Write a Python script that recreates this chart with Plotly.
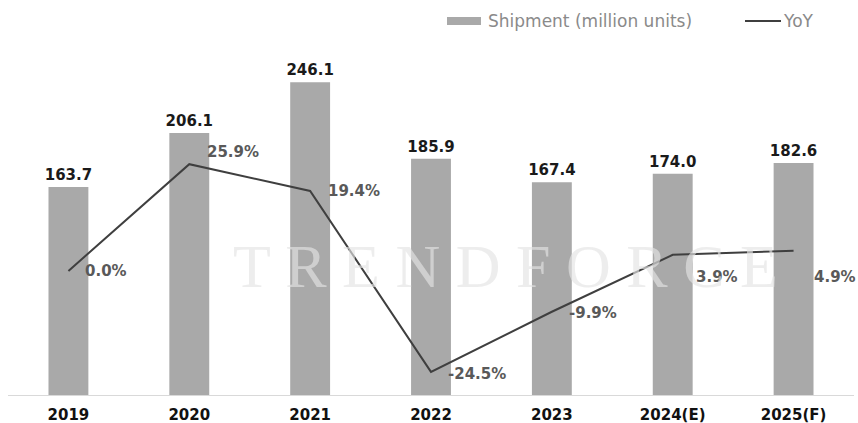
import plotly.graph_objects as go

years = ["2019", "2020", "2021", "2022", "2023", "2024(E)", "2025(F)"]
shipment = [163.7, 206.1, 246.1, 185.9, 167.4, 174.0, 182.6]
yoy = [0.0, 25.9, 19.4, -24.5, -9.9, 3.9, 4.9]
shipment_labels = [f"{v:.1f}" for v in shipment]
yoy_labels = [f"{v:.1f}%" for v in yoy]

# label offsets (style)
yoy_xshift = [15, 16, 16, 15, 15, 21, 18]
yoy_yshift = [0, 12, 0, -2, -1, -22, -26]

W, H = 858, 423
L, R, T, B = 8, 4, 50, 28
pw, ph = W - L - R, H - T - B

def px(x):
    return (x - L) / pw

def py(y):
    return (H - B - y) / ph

BAR = "#a9a9a9"
LINE = "#3f3f3f"

fig = go.Figure()
fig.add_trace(go.Bar(
    x=years, y=shipment, name="Shipment (million units)",
    marker=dict(color=BAR, line=dict(width=0)),
    width=0.33,
    text=shipment_labels, textposition="outside", cliponaxis=False,
    constraintext="none",
    textfont=dict(family="DejaVu Sans", size=15, color="#1a1a1a", weight="bold"),
    showlegend=False,
))
fig.add_trace(go.Scatter(
    x=years, y=yoy, name="YoY", yaxis="y2", mode="lines",
    line=dict(color=LINE, width=2), showlegend=False,
))

annotations = []
for i, (yv, lab, dx, dy) in enumerate(zip(yoy, yoy_labels, yoy_xshift, yoy_yshift)):
    annotations.append(dict(
        x=i, y=yv, xref="x", yref="y2", text=lab, showarrow=False,
        xanchor="left", yanchor="middle", xshift=dx, yshift=dy,
        font=dict(family="DejaVu Sans", size=15, color="#595959", weight="bold"),
    ))

# watermark
annotations.append(dict(
    x=px(505), y=py(266), xref="paper", yref="paper",
    text="T R E N D F O R C E", showarrow=False,
    font=dict(family="Liberation Serif", size=62, color="rgba(228,228,228,0.65)"),
    xanchor="center", yanchor="middle",
))

# custom legend
annotations.append(dict(
    x=px(486), y=py(21), xref="paper", yref="paper",
    text="Shipment (million units)", showarrow=False,
    xanchor="left", yanchor="middle",
    font=dict(family="DejaVu Sans", size=17, color="#8a8a8a"),
))
annotations.append(dict(
    x=px(781), y=py(21), xref="paper", yref="paper",
    text="YoY", showarrow=False,
    xanchor="left", yanchor="middle",
    font=dict(family="DejaVu Sans", size=17, color="#8a8a8a"),
))

shapes = [
    dict(type="rect", xref="paper", yref="paper",
         x0=px(447), x1=px(481), y0=py(25), y1=py(17),
         fillcolor=BAR, line=dict(width=0)),
    dict(type="line", xref="paper", yref="paper",
         x0=px(745), x1=px(781), y0=py(21), y1=py(21),
         line=dict(color=LINE, width=2)),
]

fig.update_layout(
    width=W, height=H,
    margin=dict(l=L, r=R, t=T, b=B, pad=0),
    paper_bgcolor="white", plot_bgcolor="white",
    xaxis=dict(
        type="category", range=[-0.5, 6.5], automargin=False,
        showgrid=False, showline=True, linecolor="#d9d9d9", linewidth=1,
        ticks="", zeroline=False, ticklabelstandoff=6,
        tickfont=dict(family="DejaVu Sans", size=15, color="#111111", weight="bold"),
    ),
    yaxis=dict(range=[0, 271.4], visible=False, showgrid=False, zeroline=False,
               automargin=False),
    yaxis2=dict(range=[-30.1, 53.6], overlaying="y", visible=False,
                showgrid=False, zeroline=False, automargin=False),
    annotations=annotations,
    shapes=shapes,
    showlegend=False,
)

fig.write_html("out.html")
